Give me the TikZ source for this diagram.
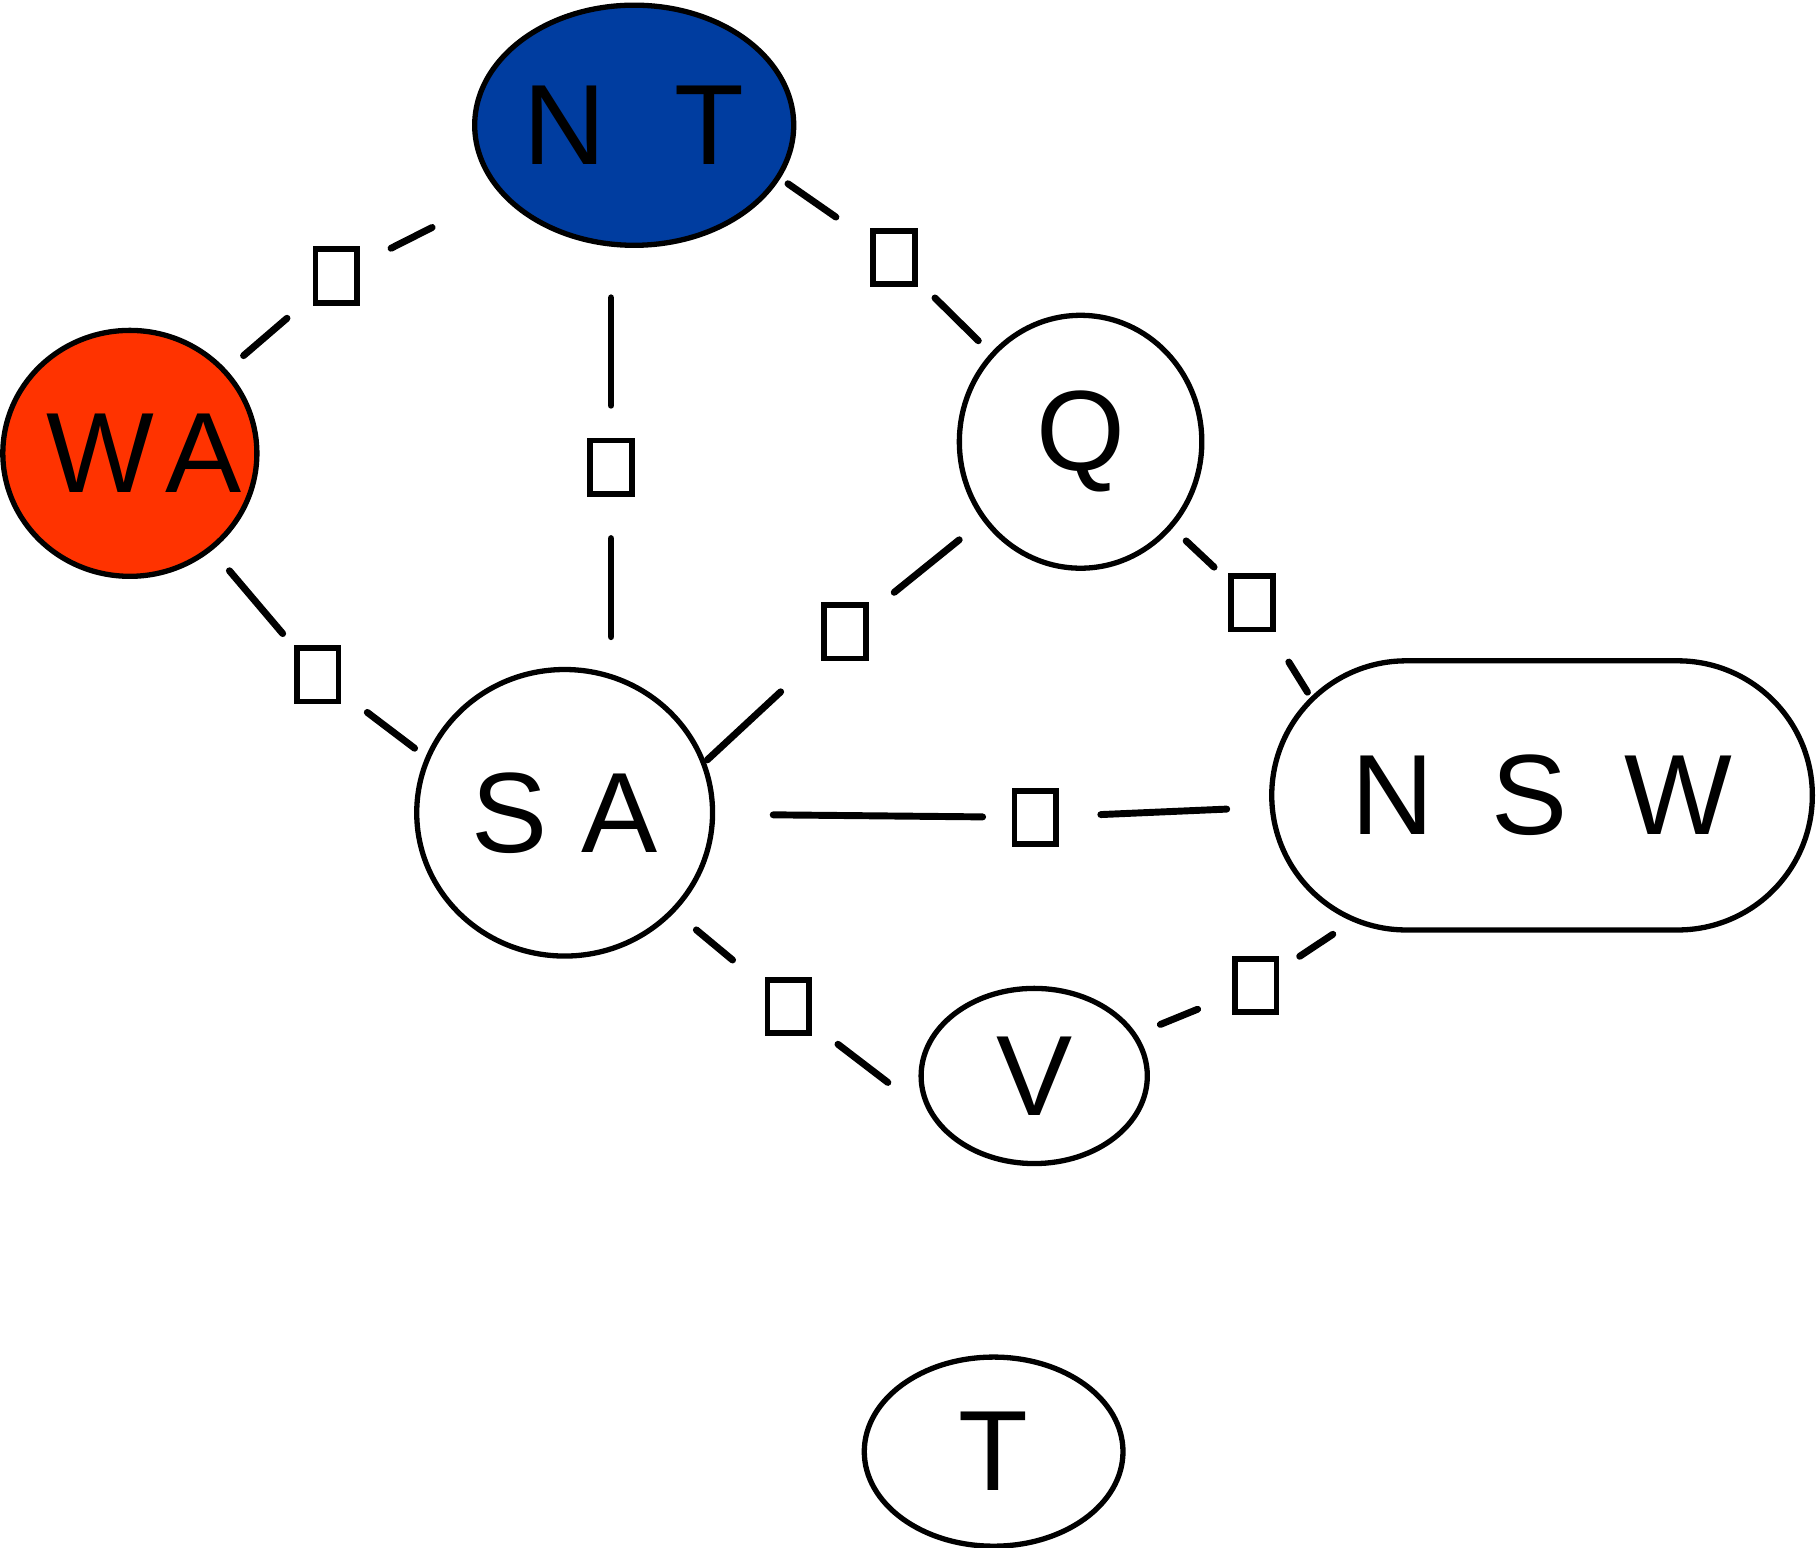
\documentclass[tikz,border=0pt]{standalone}
\usepackage{fontspec}
\setmainfont{Liberation Sans}
\usetikzlibrary{shapes.geometric,shapes.misc}
\definecolor{ntblue}{RGB}{0,61,160}
\definecolor{wared}{RGB}{255,51,0}
\begin{document}
\begin{tikzpicture}[x=0.01cm,y=-0.01cm,
  var/.style={ellipse,draw=black,line width=1.3pt,inner sep=0pt,
    font=\fontsize{28}{32}\selectfont},
  fac/.style={rectangle,draw=black,line width=1.4pt,inner sep=0pt,
    minimum width=0.36cm,minimum height=0.46cm},
  edge/.style={line width=1.7pt,line cap=round}]
\useasboundingbox (0,0) rectangle (1568,1335);
% variable nodes
\node[var,fill=ntblue,minimum width=2.75cm,minimum height=2.07cm] (NT) at (547,108) {N\hspace{0.6em}T};
\node[var,fill=wared,minimum width=2.19cm,minimum height=2.12cm] (WA) at (112,391) {\makebox[1.3cm]{\hspace{0.25cm}W\hspace{0.1em}A}};
\node[var,minimum width=2.09cm,minimum height=2.18cm] (Q) at (932,381) {Q};
\node[var,minimum width=2.55cm,minimum height=2.47cm] (SA) at (487,701) {S\hspace{0.3em}A};
\node[rounded rectangle,draw=black,line width=1.3pt,inner sep=0pt,
  font=\fontsize{28}{32}\selectfont,
  minimum width=4.66cm,minimum height=2.32cm] (NSW) at (1330,686) {N\hspace{0.5em}S\hspace{0.5em}W};
\node[var,minimum width=1.95cm,minimum height=1.51cm] (V) at (892,928) {V};
\node[var,minimum width=2.23cm,minimum height=1.63cm] (T) at (857,1252) {T};
% factor nodes
\node[fac] (fWANT) at (290,238) {};
\node[fac] (fNTQ) at (771,222) {};
\node[fac] (fNTSA) at (527,403) {};
\node[fac] (fWASA) at (274,582) {};
\node[fac] (fQSA) at (729,545) {};
\node[fac] (fQNSW) at (1080,520) {};
\node[fac] (fSANSW) at (893,705) {};
\node[fac] (fSAV) at (680,868) {};
\node[fac] (fVNSW) at (1083,850) {};
% connectors
\draw[edge,shorten <=0.19cm,shorten >=0.29cm] (WA) -- (fWANT);
\draw[edge,shorten <=0.65cm,shorten >=0.30cm] (NT) -- (fWANT);
\draw[edge,shorten <=0.08cm,shorten >=0.36cm] (NT.-20) -- (fNTQ);
\draw[edge,shorten <=0.15cm,shorten >=0.21cm] (Q) -- (fNTQ);
\draw[edge,shorten <=0.28cm,shorten >=0.43cm] (fNTSA.north) -- (fNTSA.north |- NT.south);
\draw[edge,shorten <=0.36cm,shorten >=0.26cm] (fNTSA.south) -- (fNTSA.south |- SA.north);
\draw[edge,shorten <=0.23cm,shorten >=0.15cm] (WA) -- (fWASA);
\draw[edge,shorten <=0.12cm,shorten >=0.28cm] (SA.158) -- (fWASA);
\draw[edge,shorten <=0.26cm,shorten >=0.28cm] (Q) -- (fQSA);
\draw[edge,shorten <=0.02cm,shorten >=0.48cm] (SA.20) -- (fQSA);
\draw[edge,shorten <=0.16cm,shorten >=0.17cm] (Q) -- (fQNSW);
\draw[edge,shorten <=0.05cm,shorten >=0.30cm] (NSW.157) -- (fQNSW);
\draw[edge,shorten <=0.50cm,shorten >=0.25cm] (SA) -- (fSANSW);
\draw[edge,shorten <=0.37cm,shorten >=0.36cm] (NSW) -- (fSANSW);
\draw[edge,shorten <=0.24cm,shorten >=0.36cm] (SA.-42) -- (fSAV);
\draw[edge,shorten <=0.45cm,shorten >=0.28cm] (V.200) -- (fSAV);
\draw[edge,shorten <=0.22cm,shorten >=0.32cm] (V) -- (fVNSW);
\draw[edge,shorten <=0.20cm,shorten >=0.21cm] (NSW) -- (fVNSW);
\end{tikzpicture}
\end{document}
